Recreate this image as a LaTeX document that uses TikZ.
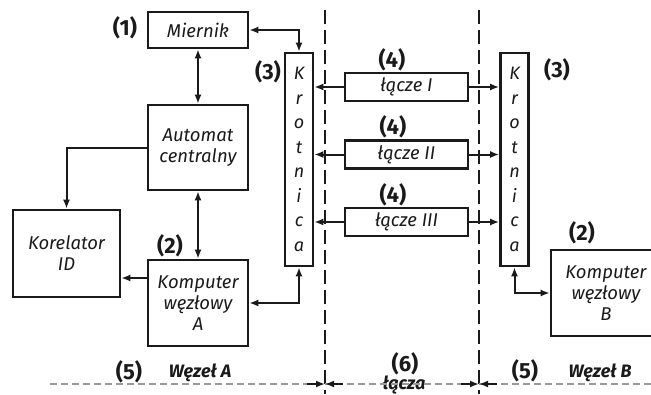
\documentclass[tikz,border=0pt]{standalone}
\usepackage{fontspec}
\setmainfont{Fira Sans}
\usetikzlibrary{arrows.meta}
\definecolor{Ink}{HTML}{1A1A1A}
\definecolor{Rule}{HTML}{9A9A9A}

\begin{document}
\begin{tikzpicture}[x=1pt,y=-1pt,
    box/.style={draw=Ink,line width=2.6pt,inner sep=2pt,align=center,text=Ink,
      font=\fontsize{18.5}{21}\selectfont\itshape},
    krot/.style={box,minimum width=28pt,minimum height=213pt,
      font=\fontsize{18}{24.5}\selectfont\itshape},
    num/.style={text=Ink,font=\fontsize{22}{26}\selectfont\bfseries},
    lbl/.style={text=Ink,font=\fontsize{18}{20}\selectfont\bfseries\itshape},
    both/.style={Ink,line width=2pt,{Latex[length=9pt,width=7pt]}-{Latex[length=9pt,width=7pt]}},
    tip/.style={Ink,line width=2pt,-{Latex[length=9pt,width=7pt]}},
    cut/.style={Ink,line width=1.6pt,dash pattern=on 14pt off 6pt}]
    \useasboundingbox (0,0) rectangle (651,394);
    % wezel A
    \node[box,minimum width=100pt,minimum height=36pt] (miernik) at (198,30) {Miernik};
    \node[box,minimum width=100pt,minimum height=85pt] (automat) at (198,147.5) {Automat\\centralny};
    \node[box,minimum width=107pt,minimum height=87pt] (korelator) at (66.5,253.5) {Korelator\\ID};
    \node[box,minimum width=100pt,minimum height=86pt] (kompA) at (198,303) {Komputer\\węzłowy\\A};
    \node[krot] (krotA) at (299,159.5) {K\\r\\o\\t\\n\\i\\c\\a};
    % lacza
    \node[box,minimum width=123pt,minimum height=28pt] (lacze1) at (406.5,87) {łącze I};
    \node[box,minimum width=123pt,minimum height=28pt] (lacze2) at (406.5,154.5) {łącze II};
    \node[box,minimum width=123pt,minimum height=28pt] (lacze3) at (406.5,222) {łącze III};
    % wezel B
    \node[krot] (krotB) at (514.5,159.5) {K\\r\\o\\t\\n\\i\\c\\a};
    \node[box,minimum width=110pt,minimum height=86pt,text width=90pt] (kompB) at (606,293) {Komputer\\węzłowy\\B};

    % numbers
    \node[num] (n1) at (125,28) {(1)};
    \node[num] (n3a) at (268,72) {(3)};
    \node[num] (n3b) at (557,70) {(3)};
    \node[num] (n4a) at (392,60) {(4)};
    \node[num] (n4b) at (393,127) {(4)};
    \node[num] (n4c) at (393,195) {(4)};
    \node[num] (n2a) at (170,246) {(2)};
    \node[num] (n2b) at (582,233) {(2)};
    \node[num] (n5a) at (129,372) {(5)};
    \node[lbl] (wA) at (200,373) {Węzeł A};
    \node[num] (n6) at (405,364) {(6)};
    \node[lbl] (lacza) at (404,385) {łącza};
    \node[num] (n5b) at (525,371) {(5)};
    \node[lbl] (wB) at (600,373) {Węzeł B};

    % connections
    \draw[both] (miernik.south) -- (automat.north);
    \draw[both] (miernik.east) -| (krotA.north);
    \draw[tip] (automat.west) -| (korelator.north);
    \draw[both] (automat.south) -- (kompA.north);
    \coordinate (ka) at ([yshift=25pt]kompA.west);
    \draw[tip] (ka) -- (ka -| korelator.east);
    \draw[both] (kompA.east) -| (krotA.south);
    \foreach \l in {lacze1,lacze2,lacze3} {
      \draw[tip] (\l.west) -- (\l.west -| krotA.east);
      \draw[tip] (\l.east) -- (\l.east -| krotB.west);
    }
    \draw[both] (krotB.south) |- (kompB.west);

    % borders
    \coordinate (cutA) at (325,384);
    \coordinate (cutB) at (479,384);
    \draw[cut] (325,10) -- (325,394);
    \draw[cut] (479,10) -- (479,394);
    \draw[Rule,line width=1.2pt,dash pattern=on 7pt off 4pt] (50,384) -- (651,384);
    \foreach \c in {cutA,cutB} {
      \draw[tip] ([xshift=-18pt]\c) -- (\c);
      \draw[tip] ([xshift=18pt]\c) -- (\c);
    }
  \end{tikzpicture}
\end{document}
